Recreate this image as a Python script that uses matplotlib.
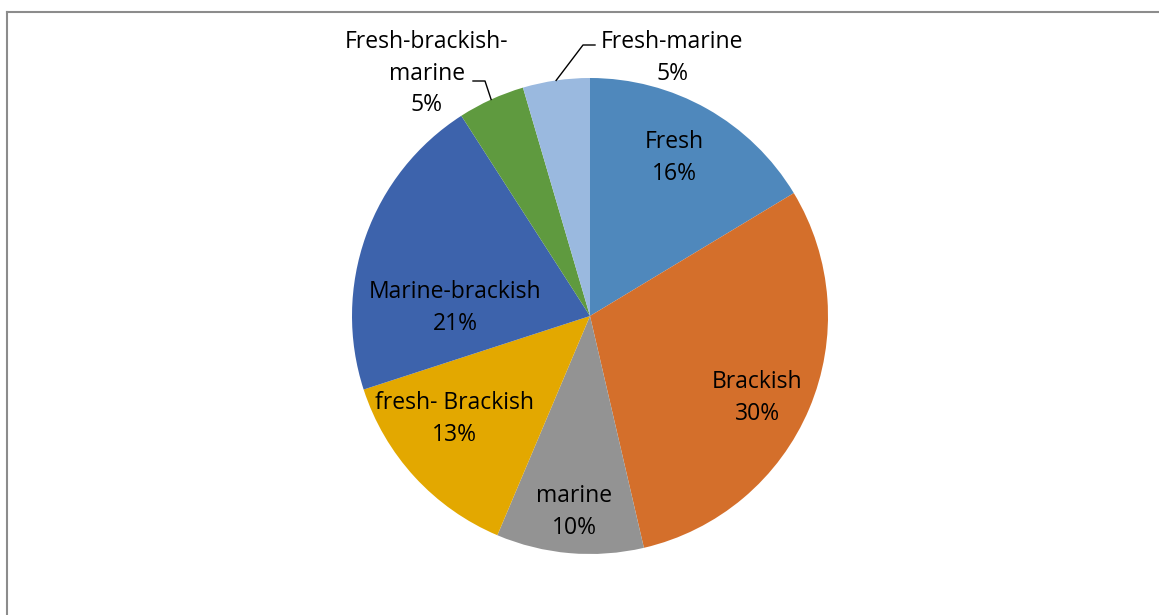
import numpy as np
import matplotlib.pyplot as plt
from matplotlib.lines import Line2D

# habitat categories (clockwise from 12 o'clock)
categories = ["Fresh", "Brackish", "marine", "fresh- Brackish", "Marine-brackish",
              "Fresh-brackish-\nmarine", "Fresh-marine"]
counts = [18, 33, 11, 15, 23, 5, 5]
pct_labels = ["16%", "30%", "10%", "13%", "21%", "5%", "5%"]
colors = ["#4F88BC", "#D46F2B", "#939393", "#E3A800", "#3D63AC", "#5F9A3F", "#9AB9DF"]

# label positions in pie units (radius = 1, centre at 0,0)
label_xy = [(0.353, 0.663), (0.702, -0.345), (-0.067, -0.824), (-0.571, -0.433),
            (-0.567, 0.033), (-0.685, 1.018), (0.345, 1.083)]

W, H = 1159, 615
cx, cy, R = 590, 316, 238

fig = plt.figure(figsize=(W / 100, H / 100), dpi=100)
ax = fig.add_axes([0, 0, 1, 1])

wedges, _ = ax.pie(counts, colors=colors, startangle=90, counterclock=False,
                   radius=1, center=(0, 0), frame=True,
                   wedgeprops=dict(linewidth=0))
ax.axis("off")
ax.set_aspect("equal")
ax.set_xlim(-cx / R, (W - cx) / R)
ax.set_ylim(-(H - cy) / R, cy / R)

font = "Open Sans"
for i, (cat, p) in enumerate(zip(categories, pct_labels)):
    x, y = label_xy[i]
    ax.text(x, y, cat + "\n" + p, ha="center", va="center", fontsize=16.5,
            family=font, color="#000000", linespacing=1.42)

# leader lines for the two small outside slices
def px(xp, yp):
    return ((xp - cx) / R, (cy - yp) / R)

for i, (p1, p2) in [(5, (px(473, 81), px(485, 81))), (6, (px(595, 45), px(583, 45)))]:
    w = wedges[i]
    mid = np.deg2rad((w.theta1 + w.theta2) / 2)
    end = (np.cos(mid), np.sin(mid))
    ax.plot([p1[0], p2[0], end[0]], [p1[1], p2[1], end[1]], color="black", lw=1.0)

# chart border (top and left visible)
fig.add_artist(Line2D([7 / W, 1], [1 - 12 / H, 1 - 12 / H], color="#8C8C8C", lw=1.5))
fig.add_artist(Line2D([7 / W, 7 / W], [0, 1 - 12 / H], color="#8C8C8C", lw=1.5))

fig.savefig("out.png", dpi=100)
